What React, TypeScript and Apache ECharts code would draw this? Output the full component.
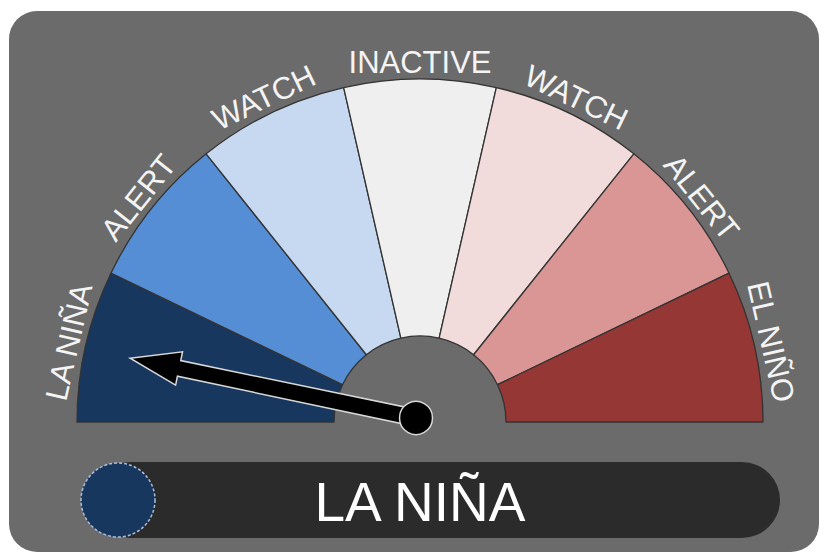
import React, { useEffect, useRef } from "react";
import * as echarts from "echarts";

const categories = ["LA NIÑA", "ALERT", "WATCH", "INACTIVE", "WATCH", "ALERT", "EL NIÑO"];
const sectorValues = [1, 1, 1, 1, 1, 1, 1];
const sectorColors = ["#17375E", "#558ED5", "#C6D9F1", "#EFEFEF", "#F2DCDB", "#D99694", "#953735"];
const needleValue = 0.46;
const statusLabel = "LA NIÑA";
const statusColor = "#17375E";

const CX = 420;
const CY = 422;
const R_OUT = 343;
const R_IN = 86;
const R_LABEL = 360;

export default function App() {
  const ref = useRef<HTMLDivElement>(null);
  useEffect(() => {
    if (!ref.current) return;
    const chart = echarts.init(ref.current, null, { renderer: "svg" });
    const n = categories.length;
    const step = 180 / n;
    const labelEls = categories.map((c, i) => {
      const deg = 180 - (i + 0.5) * step;
      const rad = (deg * Math.PI) / 180;
      return {
        type: "text",
        x: CX + R_LABEL * Math.cos(rad),
        y: CY - R_LABEL * Math.sin(rad),
        rotation: ((deg - 90) * Math.PI) / 180,
        silent: true,
        style: {
          text: c,
          align: "center",
          verticalAlign: "middle",
          fill: "#f4f4f4",
          fontSize: 31,
          fontFamily: "Liberation Sans, Arial, sans-serif",
        },
      };
    });
    chart.setOption({
      animation: false,
      backgroundColor: "#ffffff",
      graphic: [
        {
          type: "rect",
          shape: { x: 9, y: 11, width: 810, height: 541, r: 28 },
          style: { fill: "#6b6b6b" },
          z: -10,
        },
        {
          type: "rect",
          shape: { x: 92, y: 462, width: 688, height: 76, r: 38 },
          style: { fill: "#2b2b2b" },
        },
        {
          type: "circle",
          shape: { cx: 118, cy: 500, r: 37 },
          style: { fill: statusColor, stroke: "#a9bfdc", lineWidth: 1.5, lineDash: [3, 2] },
        },
        {
          type: "text",
          x: 420,
          y: 502,
          style: {
            text: statusLabel,
            align: "center",
            verticalAlign: "middle",
            fill: "#ffffff",
            fontSize: 55,
            fontFamily: "Liberation Sans, Arial, sans-serif",
          },
        },
        ...labelEls,
      ],
      series: [
        {
          type: "pie",
          center: [CX, CY],
          radius: [R_IN, R_OUT],
          startAngle: 180,
          endAngle: 0,
          silent: true,
          label: { show: false },
          labelLine: { show: false },
          itemStyle: { borderColor: "#333333", borderWidth: 1.3 },
          data: sectorValues.map((v, i) => ({
            name: categories[i],
            value: v,
            itemStyle: { color: sectorColors[i] },
          })),
        },
        {
          type: "gauge",
          center: [416, 418],
          radius: 292,
          startAngle: 180,
          endAngle: 0,
          min: 0,
          max: 7,
          silent: true,
          axisLine: { show: false },
          axisTick: { show: false },
          splitLine: { show: false },
          axisLabel: { show: false },
          title: { show: false },
          detail: { show: false },
          pointer: {
            show: true,
            icon: "path://M17 0 L34 50 L25 50 L25.5 292 L8.5 292 L9 50 L0 50 Z",
            length: "100%",
            width: 34,
            keepAspect: false,
            itemStyle: { color: "#000000", borderColor: "#d8d8d8", borderWidth: 1.5 },
          },
          anchor: {
            show: true,
            showAbove: true,
            size: 33,
            itemStyle: { color: "#000000", borderColor: "#d8d8d8", borderWidth: 1.5 },
          },
          data: [{ value: needleValue }],
          z: 5,
        },
      ],
    });
    return () => chart.dispose();
  }, []);
  return (
    <div
      ref={ref}
      style={{ position: "fixed", left: 0, top: 0, width: 827, height: 554 }}
    />
  );
}
